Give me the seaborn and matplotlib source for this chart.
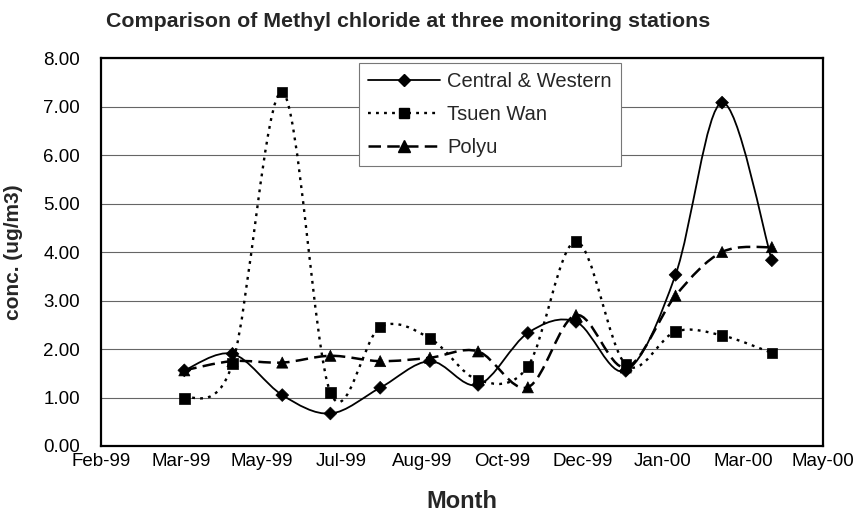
import numpy as np
import pandas as pd
import matplotlib
matplotlib.use("Agg")
import matplotlib.pyplot as plt
import matplotlib.dates as mdates
from matplotlib.path import Path
from matplotlib.patches import PathPatch
from matplotlib.lines import Line2D
import seaborn as sns

# monthly sampling dates
months = ["1999-04-01", "1999-05-01", "1999-06-01", "1999-07-01", "1999-08-01",
          "1999-09-01", "1999-10-01", "1999-11-01", "1999-12-01", "2000-01-01",
          "2000-02-01", "2000-03-01", "2000-04-01"]

central_western = [1.56, 1.90, 1.05, 0.67, 1.20, 1.75, 1.26, 2.33, 2.56, 1.55, 3.53, 7.08, 3.83]
tsuen_wan = [0.98, 1.70, 7.30, 1.10, 2.45, 2.22, 1.36, 1.64, 4.22, 1.68, 2.36, 2.28, 1.92]
polyu = [1.56, 1.75, 1.72, 1.86, 1.75, 1.82, 1.95, 1.21, 2.70, 1.62, 3.10, 4.00, 4.10]

stations = ["Central & Western", "Tsuen Wan", "Polyu"]
series = {"Central & Western": central_western, "Tsuen Wan": tsuen_wan, "Polyu": polyu}

# excel style date axis: 50 day major unit
axis_start = "1999-02-08"
axis_days = 450
tick_step = 50

df = pd.concat([pd.DataFrame({"Month": pd.to_datetime(months), "conc": vals, "station": name})
                for name, vals in series.items()], ignore_index=True)

styles = {
    "Central & Western": dict(marker="D", ls="-", lw=1.3, ms=6.5),
    "Tsuen Wan": dict(marker="s", ls=(0, (1.2, 2.2)), lw=1.7, ms=7.5),
    "Polyu": dict(marker="^", ls=(0, (5, 2.5)), lw=1.8, ms=8),
}

sns.set_style("white")
plt.rcParams["font.family"] = ["Liberation Sans", "DejaVu Sans"]

fig = plt.figure(figsize=(8.62, 5.18), dpi=100)
ax = fig.add_axes([0.117, 0.139, 0.838, 0.749])


def smooth_path(x, y):
    # excel-like smoothed line: cubic bezier through every point
    pts = np.column_stack([x, y])
    ext = np.vstack([pts[0], pts, pts[-1]])
    verts = [pts[0]]
    codes = [Path.MOVETO]
    for i in range(len(pts) - 1):
        p0, p1, p2, p3 = ext[i], ext[i + 1], ext[i + 2], ext[i + 3]
        verts += [p1 + (p2 - p0) / 6, p2 - (p3 - p1) / 6, p2]
        codes += [Path.CURVE4] * 3
    return Path(verts, codes)


for name in stations:
    sub = df[df.station == name]
    st = styles[name]
    xnum = mdates.date2num(sub["Month"])
    patch = PathPatch(smooth_path(xnum, sub["conc"].values), fill=False,
                      edgecolor="black", lw=st["lw"], linestyle=st["ls"], zorder=3)
    ax.add_patch(patch)

sns.scatterplot(data=df, x="Month", y="conc", style="station",
                markers={k: v["marker"] for k, v in styles.items()},
                size="station", sizes={k: v["ms"] ** 2 for k, v in styles.items()},
                color="black", edgecolor="black", linewidth=0.5, legend=False,
                ax=ax, zorder=4)

start = pd.Timestamp(axis_start)
ax.set_xlim(start, start + pd.Timedelta(days=axis_days))
ticks = [start + pd.Timedelta(days=d) for d in range(0, axis_days + 1, tick_step)]
ax.set_xticks(ticks)
ax.xaxis.set_major_formatter(mdates.DateFormatter("%b-%y"))

ax.set_ylim(0, 8)
ax.set_yticks(np.arange(0, 9, 1))
ax.yaxis.set_major_formatter(matplotlib.ticker.FormatStrFormatter("%.2f"))
ax.grid(axis="y", color="#666666", lw=0.8)
ax.set_axisbelow(True)
ax.tick_params(axis="both", length=0, labelsize=13.5, colors="black")
ax.tick_params(axis="x", pad=5)
ax.tick_params(axis="y", pad=15)

for sp in ax.spines.values():
    sp.set_color("black")
    sp.set_linewidth(1.6)

ax.set_xlabel("Month", fontsize=17, fontweight="bold")
ax.set_ylabel("conc. (ug/m3)", fontsize=15, fontweight="bold")
ax.xaxis.set_label_coords(0.5, -0.113)
ax.yaxis.set_label_coords(-0.108, 0.5)

fig.text(0.473, 0.959, "Comparison of Methyl chloride at three monitoring stations",
         ha="center", va="center", fontsize=15.4, fontweight="bold")

handles = [Line2D([], [], color="black", marker=styles[n]["marker"], ls=styles[n]["ls"],
                  lw=styles[n]["lw"], ms=styles[n]["ms"]) for n in stations]
leg = ax.legend(handles, stations, loc="upper left", bbox_to_anchor=(0.357, 0.987),
                borderaxespad=0, fontsize=14.5, handlelength=3.6, handletextpad=0.35,
                labelspacing=0.7, frameon=True, fancybox=False, borderpad=0.45,
                framealpha=1)
leg.get_frame().set_edgecolor("#777777")
leg.get_frame().set_linewidth(0.8)

fig.savefig("out.png", dpi=100, facecolor="white")
plt.close(fig)
